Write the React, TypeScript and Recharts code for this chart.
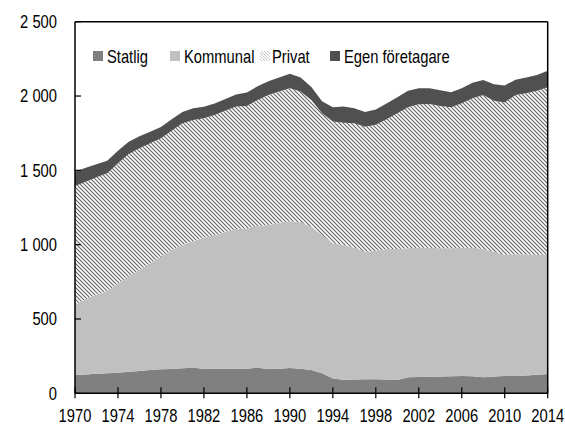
import React from 'react';
import { AreaChart, Area, XAxis, YAxis, ReferenceLine, Legend } from 'recharts';

const years = [
  1970, 1971, 1972, 1973, 1974, 1975, 1976, 1977, 1978, 1979,
  1980, 1981, 1982, 1983, 1984, 1985, 1986, 1987, 1988, 1989,
  1990, 1991, 1992, 1993, 1994, 1995, 1996, 1997, 1998, 1999,
  2000, 2001, 2002, 2003, 2004, 2005, 2006, 2007, 2008, 2009,
  2010, 2011, 2012, 2013, 2014,
];

const statlig = [
  123, 127, 131, 135, 139, 145, 150, 156, 161, 164,
  168, 172, 166, 166, 166, 166, 166, 172, 163, 165,
  170, 166, 157, 135, 99, 92, 93, 94, 95, 93,
  90, 108, 110, 112, 113, 115, 116, 114, 108, 113,
  116, 117, 119, 125, 130,
];

const kommunal = [
  471, 508, 531, 553, 601, 640, 680, 719, 759, 800,
  830, 853, 881, 899, 917, 940, 944, 953, 970, 980,
  990, 984, 964, 930, 910, 906, 887, 859, 863, 878,
  881, 868, 870, 868, 863, 861, 864, 866, 863, 840,
  815, 818, 816, 806, 805,
];

const privat = [
  801, 789, 791, 792, 808, 825, 819, 807, 796, 803,
  819, 814, 803, 808, 819, 823, 823, 849, 874, 885,
  892, 880, 853, 819, 819, 823, 837, 841, 848, 873,
  913, 949, 965, 967, 957, 949, 971, 1005, 1036, 1016,
  1025, 1072, 1084, 1105, 1124,
];

const egen = [
  96, 93, 88, 85, 84, 83, 80, 78, 76, 76,
  76, 78, 78, 76, 78, 82, 90, 92, 92, 95,
  98, 94, 86, 80, 97, 108, 100, 99, 104, 106,
  108, 110, 107, 105, 106, 100, 101, 104, 100, 110,
  115, 103, 106, 105, 111,
];

const seriesNames = ['Statlig', 'Kommunal', 'Privat', 'Egen företagare'];
const yTicks = [0, 500, 1000, 1500, 2000, 2500];
const xTicks = [1970, 1974, 1978, 1982, 1986, 1990, 1994, 1998, 2002, 2006, 2010, 2014];

const data = years.map((year, i) => ({
  year,
  Statlig: statlig[i],
  Kommunal: kommunal[i],
  Privat: privat[i],
  'Egen företagare': egen[i],
}));

const FONT = "'Liberation Sans', Arial, sans-serif";
const FONT_SIZE = 18;
const SQUEEZE = 0.82;

const fmt = (v: number) => {
  const s = String(v);
  return s.length > 3 ? s.slice(0, s.length - 3) + ' ' + s.slice(s.length - 3) : s;
};

const NarrowText = ({ x, y, anchor, children }: any) => (
  <text
    transform={`translate(${x}, ${y}) scale(${SQUEEZE}, 1)`}
    x={0}
    y={0}
    textAnchor={anchor}
    fontFamily={FONT}
    fontSize={FONT_SIZE}
    fill="#000"
  >
    {children}
  </text>
);

const YTick = (props: any) => {
  const { x, y, payload } = props;
  return (
    <g>
      <line x1={x} x2={x + 6} y1={y} y2={y} stroke="#000" strokeWidth={1.2} />
      <NarrowText x={x - 18} y={y + 6.3} anchor="end">{fmt(payload.value)}</NarrowText>
    </g>
  );
};

const XTick = (props: any) => {
  const { x, y, payload } = props;
  return (
    <g>
      <line x1={x} x2={x} y1={y - 6} y2={y + 5} stroke="#000" strokeWidth={1.2} />
      <NarrowText x={x} y={y + 28.5} anchor="middle">{payload.value}</NarrowText>
    </g>
  );
};

const colors = ['#808080', '#c0c0c0', 'hatch', '#505050'];
const legendIconX = [0, 77, 167, 237];
const legendTextX = [14, 91, 179, 251];

const LegendContent = () => (
  <svg width={380} height={26} style={{ display: 'block', overflow: 'visible' }}>
    <defs>
      <pattern id="legendHatch" patternUnits="userSpaceOnUse" width={3} height={3}>
        <path d="M0,0 L3,3 M-1,2 L1,4 M2,-1 L4,1" stroke="#a8a8a8" strokeWidth={0.7} />
      </pattern>
    </defs>
    {seriesNames.map((name, i) => (
      <g key={name}>
        {colors[i] === 'hatch' ? (
          <rect x={legendIconX[i]} y={6} width={10} height={10} fill="url(#legendHatch)" />
        ) : (
          <rect x={legendIconX[i]} y={6} width={10} height={10} fill={colors[i]} />
        )}
        <NarrowText x={legendTextX[i]} y={17.5} anchor="start">{name}</NarrowText>
      </g>
    ))}
  </svg>
);

export default function App() {
  return (
    <div style={{ position: 'absolute', left: 0, top: 0, width: 565, height: 424, background: '#fff' }}>
      <AreaChart
        width={565}
        height={424}
        data={data}
        margin={{ top: 21.7, right: 17.3, bottom: 0, left: 0 }}
      >
        <defs>
          <pattern id="privatHatch" patternUnits="userSpaceOnUse" width={4} height={4}>
            <rect x={0} y={0} width={4} height={4} fill="#ffffff" />
            <path d="M0,0 L4,4 M-1,3 L1,5 M3,-1 L5,1" stroke="#666666" strokeWidth={1.15} />
          </pattern>
        </defs>
        <XAxis
          dataKey="year"
          type="number"
          domain={[1970, 2014]}
          ticks={xTicks}
          height={30.7}
          tickSize={0}
          tickMargin={0}
          tickLine={false}
          axisLine={{ stroke: '#000', strokeWidth: 1.5 }}
          tick={<XTick />}
          interval={0}
        />
        <YAxis
          type="number"
          domain={[0, 2500]}
          ticks={yTicks}
          width={75}
          tickSize={0}
          tickMargin={0}
          tickLine={false}
          axisLine={{ stroke: '#000', strokeWidth: 1.5 }}
          tick={<YTick />}
          interval={0}
        />
        <Area type="linear" dataKey="Statlig" stackId="1" stroke="none" fill="#808080" fillOpacity={1} isAnimationActive={false} />
        <Area type="linear" dataKey="Kommunal" stackId="1" stroke="none" fill="#c0c0c0" fillOpacity={1} isAnimationActive={false} />
        <Area type="linear" dataKey="Privat" stackId="1" stroke="none" fill="url(#privatHatch)" fillOpacity={1} isAnimationActive={false} />
        <Area type="linear" dataKey="Egen företagare" stackId="1" stroke="none" fill="#505050" fillOpacity={1} isAnimationActive={false} />
        <ReferenceLine y={2500} stroke="#000" strokeWidth={1.5} />
        <ReferenceLine x={2014} stroke="#000" strokeWidth={1.5} />
        <Legend
          layout="vertical"
          align="center"
          verticalAlign="middle"
          content={<LegendContent />}
          wrapperStyle={{ position: 'absolute', left: 93, top: 45, width: 380, height: 26 }}
        />
      </AreaChart>
    </div>
  );
}
